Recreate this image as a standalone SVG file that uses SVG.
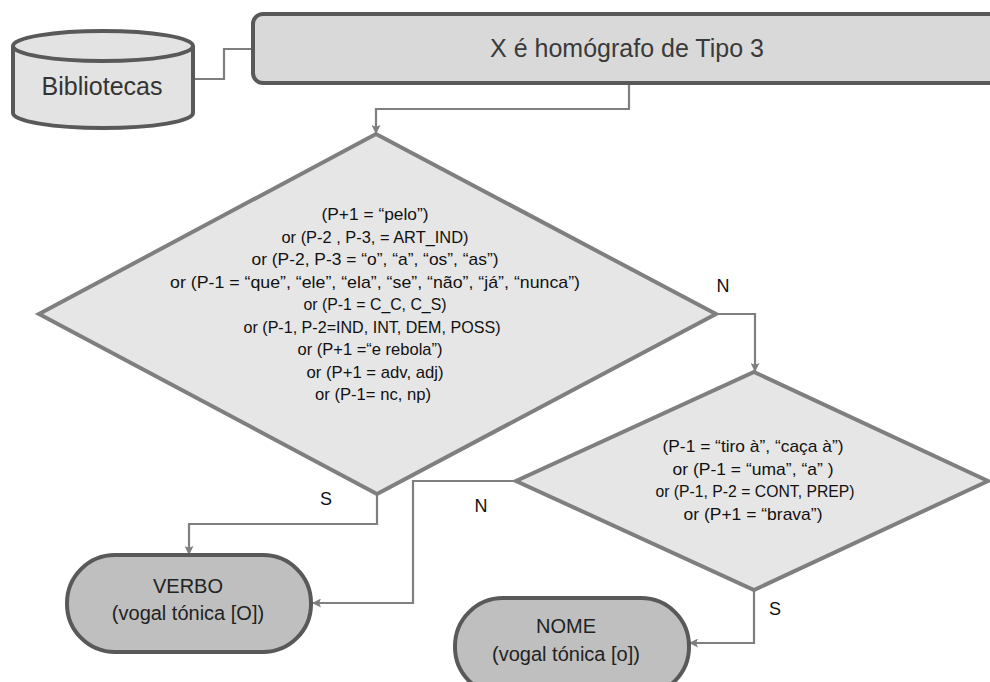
<svg xmlns="http://www.w3.org/2000/svg" width="990" height="682" viewBox="0 0 990 682">
<defs>
<style>
text{font-family:"Liberation Sans",Arial,sans-serif;text-anchor:middle}
.dark{stroke:#595959;stroke-width:4}
.dia{fill:#e6e6e6;stroke:#7f7f7f;stroke-width:4;stroke-linejoin:miter}
.term{fill:#bfbfbf;stroke:#595959;stroke-width:4}
.conn{fill:none;stroke:#7f7f7f;stroke-width:2.2}
.cond{font-size:17px;fill:#111}
.lab{font-size:18px;fill:#111}
.tt{font-size:20px;fill:#222}
</style>
<marker id="arr" viewBox="0 0 10 10" refX="10" refY="5" markerWidth="9" markerHeight="9" markerUnits="userSpaceOnUse" orient="auto">
<path d="M0,0 L10,5 L0,10 L2,5 z" fill="#7f7f7f"/>
</marker>
</defs>

<g id="connectors">
<path class="conn" d="M193,79 H224 V49 H255"/>
<path class="conn" d="M629,83 V109 H376 V134" marker-end="url(#arr)"/>
<path class="conn" d="M716,314 H755 V372" marker-end="url(#arr)"/>
<path class="conn" d="M377,494 V524 H189 V555" marker-end="url(#arr)"/>
<path class="conn" d="M516,481 H413 V603 H312" marker-end="url(#arr)"/>
<path class="conn" d="M754,590 V643 H689" marker-end="url(#arr)"/>
<text class="lab" x="723" y="292">N</text>
<text class="lab" x="326" y="505">S</text>
<text class="lab" x="481" y="512">N</text>
<text class="lab" x="775" y="615">S</text>
</g>

<g id="bibliotecas">
<path class="dark" fill="#e3e3e3" d="M13,46 A90,15 0 0 1 193,46 L193,113 A90,15 0 0 1 13,113 Z"/>
<path class="dark" fill="none" d="M13,46 A90,15 0 0 0 193,46"/>
<text x="102" y="95" font-size="25" fill="#333">Bibliotecas</text>
</g>

<g id="tipo3">
<rect class="dark" x="253" y="14" width="770" height="69" rx="10" fill="#d9d9d9"/>
<text x="627" y="57" font-size="25" fill="#3a3a3a">X é homógrafo de Tipo 3</text>
</g>

<g id="decisao1">
<polygon class="dia" points="376,134 716,314 377,494 39,314"/>
<text class="cond" x="375" y="220" textLength="107" lengthAdjust="spacingAndGlyphs">(P+1 = “pelo”)</text>
<text class="cond" x="375" y="242.5" textLength="187" lengthAdjust="spacingAndGlyphs">or (P-2 , P-3, = ART_IND)</text>
<text class="cond" x="375" y="265" textLength="247" lengthAdjust="spacingAndGlyphs">or (P-2, P-3 = “o”, “a”, “os”, “as”)</text>
<text class="cond" x="375" y="287.5" textLength="410" lengthAdjust="spacingAndGlyphs">or (P-1 = “que”, “ele”, “ela”, “se”, “não”, “já”, “nunca”)</text>
<text class="cond" x="375" y="310" textLength="143" lengthAdjust="spacingAndGlyphs">or (P-1 = C_C, C_S)</text>
<text class="cond" x="372" y="332.5" textLength="257" lengthAdjust="spacingAndGlyphs">or (P-1, P-2=IND, INT, DEM, POSS)</text>
<text class="cond" x="370" y="355" textLength="145" lengthAdjust="spacingAndGlyphs">or (P+1 =“e rebola”)</text>
<text class="cond" x="375" y="377.5" textLength="137" lengthAdjust="spacingAndGlyphs">or (P+1 = adv, adj)</text>
<text class="cond" x="373" y="400" textLength="116" lengthAdjust="spacingAndGlyphs">or (P-1= nc, np)</text>
</g>

<g id="decisao2">
<polygon class="dia" points="754,372 988,481 754,590 516,481"/>
<text class="cond" x="753" y="452" textLength="181" lengthAdjust="spacingAndGlyphs">(P-1 = “tiro à”, “caça à”)</text>
<text class="cond" x="753" y="475" textLength="161" lengthAdjust="spacingAndGlyphs">or (P-1 = “uma”, “a” )</text>
<text class="cond" x="755" y="497" textLength="199" lengthAdjust="spacingAndGlyphs">or (P-1, P-2 = CONT, PREP)</text>
<text class="cond" x="753" y="520" textLength="139" lengthAdjust="spacingAndGlyphs">or (P+1 = “brava”)</text>
</g>

<g id="verbo">
<rect class="term" x="67" y="555" width="244" height="97" rx="48" ry="48"/>
<text class="tt" x="188" y="593">VERBO</text>
<text class="tt" x="188" y="620">(vogal tónica [O])</text>
</g>

<g id="nome">
<rect class="term" x="455" y="598" width="234" height="97" rx="48" ry="48"/>
<text class="tt" x="566" y="633">NOME</text>
<text class="tt" x="566" y="661">(vogal tónica [o])</text>
</g>
</svg>
